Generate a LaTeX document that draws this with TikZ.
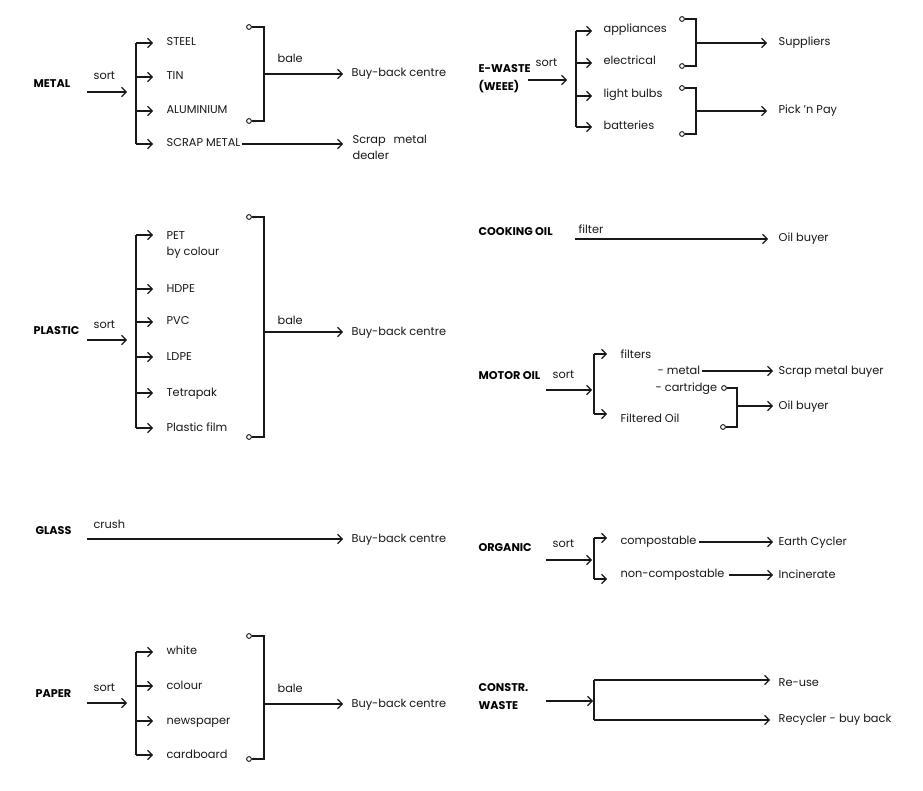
\documentclass[tikz,border=0pt]{standalone}
\usepackage{fontspec}
\setmainfont{Poppins}
\usetikzlibrary{arrows.meta}
\begin{document}
\begin{tikzpicture}[x=0.75pt,y=-0.75pt,
 line width=0.9pt, draw=black!90,
 arr/.style={-{Straight Barb[length=3.4pt,width=7pt]}},
 tx/.style={anchor=west, inner sep=0pt, font=\fontsize{8.5}{10}\selectfont, text=black!90, text height=6.2pt, text depth=1.7pt},
 txm/.style={anchor=west, inner sep=0pt, font=\fontsize{8.5}{12}\selectfont, text=black!90, align=left},
 hd/.style={anchor=west, inner sep=0pt, font=\fontsize{8.4}{9}\selectfont\bfseries, text=black, text height=6pt, text depth=0pt},
 hdm/.style={anchor=west, inner sep=0pt, font=\fontsize{8.4}{13.5}\selectfont\bfseries, text=black, align=left},
 dot/.style={circle, draw, fill=white, inner sep=0pt, minimum size=3.6pt, line width=0.7pt},
 brL/.style={arr, shorten >=9.75pt},
 brE/.style={arr, shorten >=8.25pt},
 outL/.style={arr, shorten >=6pt},
 outE/.style={arr, shorten >=8.25pt},
 outM/.style={arr, shorten >=3.75pt}]
\path[use as bounding box, fill=white] (0,0) rectangle (923,791);

% ---------------- METAL
\node[hd] (metal) at (33,84) {METAL};
\node[tx] (metalsort) at (93,77) {sort};
\coordinate (ms) at (87,92); \coordinate (me) at (127,92);
\draw[arr] (ms) -- (me);
\node[tx] (steel) at (166,43) {STEEL};
\node[tx] (tin) at (166,77) {TIN};
\node[tx] (alu) at (166,111) {ALUMINIUM};
\node[tx] (scrap) at (166,144) {SCRAP METAL};
\coordinate (mt) at (136,43); \coordinate (mb) at (136,144);
\draw (mt) -- (mb);
\draw[brL] (mt) -- (steel.west);
\draw[brL] (mt |- tin.west) -- (tin.west);
\draw[brL] (mt |- alu.west) -- (alu.west);
\draw[brL] (mb) -- (scrap.west);
\node[dot] (mc1) at (249,27) {};
\node[dot] (mc2) at (249,121) {};
\coordinate (mj) at (264,74);
\node[tx] (mbale) at (277,60) {bale};
\node[tx] (mbuy) at (351,74) {Buy-back centre};
\draw (mc1) -| (mj) |- (mc2);
\draw[outL] (mj) -- (mbuy.west);
\node[txm] (sdeal) at (352,147) {Scrap\hspace{6pt}metal\\dealer};
\draw[arr, shorten >=6.75pt, shorten <=1pt] (scrap.east) -- (sdeal.west |- scrap.east);

% ---------------- PLASTIC
\node[hd] (plastic) at (33,330) {PLASTIC};
\node[tx] (psort) at (93,325) {sort};
\coordinate (ps) at (87,340); \coordinate (pe) at (127,340);
\draw[arr] (ps) -- (pe);
\node[txm, anchor=base west] (pet) at (166,256) {PET\\by colour};
\node[tx] (hdpe) at (166,289) {HDPE};
\node[tx] (pvc) at (166,322) {PVC};
\node[tx] (ldpe) at (166,357) {LDPE};
\node[tx] (tetra) at (166,393) {Tetrapak};
\node[tx] (pfilm) at (166,428) {Plastic film};
\coordinate (pt) at (136,235); \coordinate (pb) at (136,428);
\draw (pt) -- (pb);
\draw[brL] (pt) -- (pt -| pet.west);
\draw[brL] (pt |- hdpe.west) -- (hdpe.west);
\draw[brL] (pt |- pvc.west) -- (pvc.west);
\draw[brL] (pt |- ldpe.west) -- (ldpe.west);
\draw[brL] (pt |- tetra.west) -- (tetra.west);
\draw[brL] (pb) -- (pfilm.west);
\node[dot] (pc1) at (249,217) {};
\node[dot] (pc2) at (249,437) {};
\coordinate (pj) at (264,332);
\node[tx] (pbale) at (277,322) {bale};
\node[tx] (pbuy) at (351,332) {Buy-back centre};
\draw (pc1) -| (pj) |- (pc2);
\draw[outL] (pj) -- (pbuy.west);

% ---------------- GLASS
\node[hd] (glass) at (35,530) {GLASS};
\node[tx] (crush) at (93,525) {crush};
\coordinate (gs) at (87,539);
\node[tx] (gbuy) at (351,539) {Buy-back centre};
\draw[outL] (gs) -- (gbuy.west);

% ---------------- PAPER
\node[hd] (paper) at (35,693) {PAPER};
\node[tx] (papsort) at (93,688) {sort};
\coordinate (pas) at (87,703); \coordinate (pae) at (127,703);
\draw[arr] (pas) -- (pae);
\node[tx] (white) at (166,651) {white};
\node[tx] (colour) at (166,686) {colour};
\node[tx] (news) at (166,721) {newspaper};
\node[tx] (card) at (166,755) {cardboard};
\coordinate (pat) at (136,652); \coordinate (pab) at (136,755);
\draw (pat) -- (pab);
\draw[brL] (pat) -- (pat -| white.west);
\draw[brL] (pat |- colour.west) -- (colour.west);
\draw[brL] (pat |- news.west) -- (news.west);
\draw[brL] (pab) -- (card.west);
\node[dot] (pac1) at (249,636) {};
\node[dot] (pac2) at (249,759) {};
\coordinate (paj) at (264,704);
\node[tx] (pabale) at (277,689) {bale};
\node[tx] (pabuy) at (351,704) {Buy-back centre};
\draw (pac1) -| (paj) |- (pac2);
\draw[outL] (paj) -- (pabuy.west);

% ---------------- E-WASTE
\node[hdm] (ewaste) at (478,79) {E-WASTE\\(WEEE)};
\node[tx] (esort) at (535,64) {sort};
\coordinate (es) at (528,80); \coordinate (ee) at (567,80);
\draw[arr] (es) -- (ee);
\node[tx] (appl) at (603,30) {appliances};
\node[tx] (elec) at (603,62) {electrical};
\node[tx] (bulb) at (603,95) {light bulbs};
\node[tx] (batt) at (603,127) {batteries};
\coordinate (et) at (576,31); \coordinate (eb) at (576,127);
\coordinate (e2) at (576,63); \coordinate (e3) at (576,96);
\draw (et) -- (eb);
\draw[brE] (et) -- (et -| appl.west);
\draw[brE] (e2) -- (e2 -| elec.west);
\draw[brE] (e3) -- (e3 -| bulb.west);
\draw[brE] (eb) -- (eb -| batt.west);
\node[dot] (ec1) at (682,19) {};
\node[dot] (ec2) at (682,66) {};
\coordinate (ej1) at (696,43);
\node[tx] (suppl) at (778,43) {Suppliers};
\draw (ec1) -| (ej1) |- (ec2);
\draw[outE] (ej1) -- (suppl.west);
\node[dot] (ec3) at (682,88) {};
\node[dot] (ec4) at (682,134) {};
\coordinate (ej2) at (696,111);
\node[tx] (pnp) at (778,111) {Pick ’n Pay};
\draw (ec3) -| (ej2) |- (ec4);
\draw[outE] (ej2) -- (pnp.west);

% ---------------- COOKING OIL
\node[hd] (cook) at (478,232) {COOKING OIL};
\node[tx] (filter) at (578,231) {filter};
\coordinate (cs) at (575,239);
\node[tx] (coil) at (778,239) {Oil buyer};
\draw[arr, shorten >=7.5pt] (cs) -- (coil.west);

% ---------------- MOTOR OIL
\node[hd] (motor) at (478,375) {MOTOR OIL};
\node[tx] (mosort) at (552,375) {sort};
\coordinate (mos) at (546,390); \coordinate (moe) at (592,390);
\draw[arr] (mos) -- (moe);
\coordinate (mot) at (594,354); \coordinate (mob) at (594,414);
\draw (mot) -- (mob);
\node[tx] (filters) at (620,355) {filters};
\node[tx] (foil) at (620,419) {Filtered Oil};
\draw[brL] (mot) -- (mot -| filters.west);
\draw[brL] (mob) -- (mob -| foil.west);
\node[tx] (mmetal) at (657,371) {- metal};
\node[tx] (smb) at (778,371) {Scrap metal buyer};
\draw[outM, shorten <=1pt] (mmetal.east) -- (smb.west);
\node[tx] (cart) at (655,388) {- cartridge};
\node[dot] (moc1) at (724,388) {};
\node[dot] (moc2) at (723,427) {};
\coordinate (moj) at (737,406);
\node[tx] (moil) at (778,406) {Oil buyer};
\draw (moc1) -| (moj) |- (moc2);
\draw[outM] (moj) -- (moil.west);

% ---------------- ORGANIC
\node[hd] (organic) at (478,547) {ORGANIC};
\node[tx] (osort) at (552,544) {sort};
\coordinate (os) at (546,560); \coordinate (oe) at (592,560);
\draw[arr] (os) -- (oe);
\coordinate (ot) at (594,538); \coordinate (ob) at (594,579);
\draw (ot) -- (ob);
\node[tx] (comp) at (620,541) {compostable};
\node[tx] (ncomp) at (620,574) {non-compostable};
\draw[brL] (ot) -- (ot -| comp.west);
\draw[brL] (ob) -- (ob -| ncomp.west);
\node[tx] (earth) at (778,542) {Earth Cycler};
\node[tx] (incin) at (778,575) {Incinerate};
\draw[outM, shorten <=1.5pt] (comp.east |- earth.west) -- (earth.west);
\coordinate (ncs) at (729,575);
\draw[outM] (ncs) -- (incin.west);

% ---------------- CONSTR. WASTE
\node[hdm] (constr) at (478,697) {CONSTR.\\WASTE};
\coordinate (cws) at (546,701); \coordinate (cwe) at (593,701);
\draw[arr] (cws) -- (cwe);
\coordinate (cwt) at (594,680); \coordinate (cwb) at (594,720);
\draw (cwt) -- (cwb);
\node[tx] (reuse) at (778,683) {Re-use};
\node[tx] (recyc) at (778,719) {Recycler - buy back};
\draw[arr, shorten >=6pt] (cwt) -- (cwt -| reuse.west);
\draw[arr, shorten >=6pt] (cwb) -- (cwb -| recyc.west);
\end{tikzpicture}
\end{document}
